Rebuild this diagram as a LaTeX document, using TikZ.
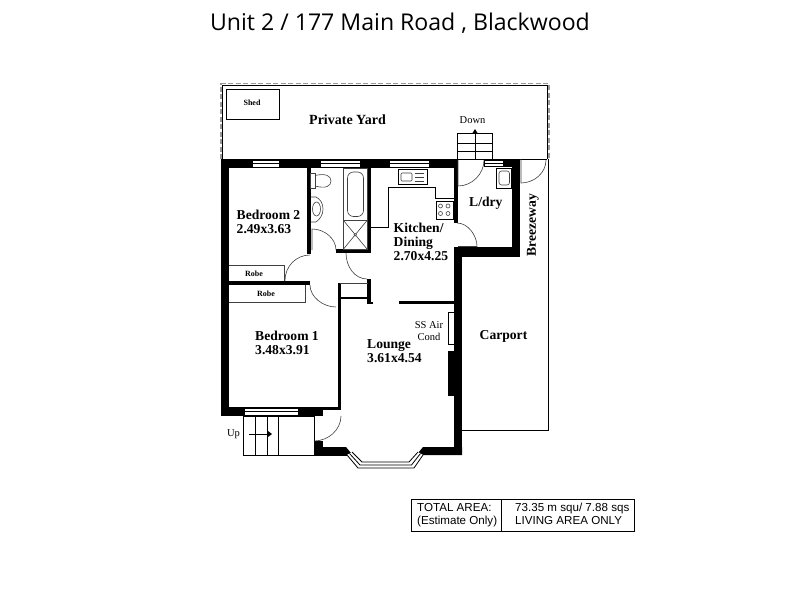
\documentclass[tikz,border=0pt]{standalone}
\usepackage{fontspec}
\setmainfont{Liberation Serif}
\newfontfamily\titlefont{Open Sans}
\newfontfamily\boxfont{Liberation Sans}
\tikzset{
  x=1pt,y=-1pt,
  wall/.style={fill=black},
  thinl/.style={draw=black,line width=0.8pt},
  hair/.style={draw=black!75,line width=0.6pt},
  dashb/.style={draw=black!40,line width=1.3pt,dash pattern=on 5pt off 2.5pt},
  winbox/.style={draw=black,line width=0.6pt,fill=white},
  roomlabel/.style={font=\fontsize{13.6}{14.3}\selectfont\bfseries,align=left,anchor=north west,inner sep=0pt},
  plainlabel/.style={font=\fontsize{10.5}{11.5}\selectfont,align=center,inner sep=0pt},
  smalllabel/.style={font=\fontsize{8}{9}\selectfont\bfseries,inner sep=0pt},
  boxlabel/.style={font=\boxfont\fontsize{11.6}{13.2}\selectfont,align=left,anchor=north west,inner sep=0pt},
}
\newcommand{\winh}[4]{%
  \draw[winbox] (#1,#3) rectangle (#2,#4);
  \draw[draw=black,line width=0.5pt] (#1,{(#3+#4)/2}) -- (#2,{(#3+#4)/2});}
\begin{document}
\begin{tikzpicture}
\useasboundingbox (0,0) rectangle (800,600);
\fill[white] (0,0) rectangle (800,600);
% title
\node[font=\titlefont\fontsize{23.1}{25}\selectfont,inner sep=0pt] (title) at (400,23.5) {Unit 2 / 177 Main Road , Blackwood};
% yard
\draw[dashb] (221,159) -- (221,83.5) -- (549,83.5) -- (549,159);
\draw[thinl] (222.5,159) -- (222.5,85.5) -- (547,85.5) -- (547,159);
\draw[thinl] (226,89.5) rectangle (279,119.5);
% carport + breezeway outlines
\draw[thinl] (548,159) -- (548,430) -- (462,430);
\draw[thinl] (520,159) -- (547,159);
% walls
\fill[wall] (221,159) rectangle (454,168);
\fill[wall] (221,159) rectangle (229,416);
\fill[wall] (221,407) rectangle (298,416);
\fill[wall] (298,407) rectangle (323,416);
\fill[wall] (298,407) rectangle (341,410);
\fill[wall] (337.5,283) rectangle (340.5,410);
\fill[wall] (229,281) rectangle (310,285);
\fill[wall] (307,168) rectangle (311,254);
\fill[wall] (367,168) rectangle (371,252);
\fill[wall] (336,249) rectangle (371,252.5);
\fill[wall] (367,279) rectangle (371,304);
\fill[wall] (340,296.5) rectangle (368,299);
\fill[wall] (367,301.5) rectangle (373,304);
\fill[wall] (454,159) rectangle (458,223);
\fill[wall] (484,159) rectangle (520,167);
\fill[wall] (511.5,159) rectangle (520,257);
\fill[wall] (454,247) rectangle (520,257);
\fill[wall] (454,247) rectangle (462,455);
\fill[wall] (399,300.5) rectangle (454,303.5);
\fill[wall] (448,351) rectangle (454,396);
\fill[wall] (314,441) rectangle (323,455);
\fill[wall] (323,447) -- (346,447) -- (351,453) -- (347,455) -- (323,455) -- cycle;
\fill[wall] (462,447) -- (423,447) -- (418,453) -- (423,455) -- (462,455) -- cycle;
% air-con unit
\draw[thinl] (454,312) -- (448.5,312) -- (448.5,344) -- (454,344);
% windows
\winh{252}{279}{160}{167}
\winh{320}{360}{160}{167}
\winh{389}{429}{160}{167}
\winh{484}{503}{160}{166.5}
\winh{244}{298}{408}{415}
% doorway gap
\fill[white] (458.5,159) rectangle (484,168);
% bay window
\fill[white] (347,455) -- (352,452) -- (362,462) -- (409,462) -- (418,452) -- (423,455) -- (414,468) -- (358,468) -- cycle;
\draw[thinl] (347,455) -- (358,468) -- (414,468) -- (423,455);
\draw[thinl] (349.5,453.5) -- (360,465) -- (411.5,465) -- (420.5,453.5);
\draw[thinl] (352,452) -- (362,462) -- (409,462) -- (418,452);
% doors
\draw[hair] (458,159) -- (458,186) .. controls +(14,0) and +(0,14) .. (484,160);
\draw[hair] (521,159) -- (521,183) .. controls +(13,0) and +(0,13) .. (546,160);
\draw[hair] (457,223) .. controls +(11,0) and +(0,-11) .. (477,246.5) -- (458,246.5);
\draw[hair] (312,250) -- (312,229) .. controls +(13,0) and +(0,-11) .. (336,250);
\draw[hair] (285,280.5) .. controls +(0,-14) and +(-14,0) .. (310,255);
\draw[hair] (310,285) .. controls +(0,12) and +(-13,0) .. (336,307);
\draw[hair] (346,253) .. controls +(0,14) and +(-12,0) .. (367,279);
\draw[hair] (340,283) -- (367.5,283);
\draw[hair] (314,441) .. controls +(14,0) and +(0,14) .. (341,416);
% robes
\draw[hair] (229,265) -- (284,265) -- (284,281);
\draw[hair] (229,302) -- (305,302) -- (305,285);
% bathroom fixtures
\draw[hair] (310.5,173) rectangle (315,188);
\draw[hair] (315,175.5) .. controls (326,173) and (331,176) .. (331,181) .. controls (331,186) and (326,189) .. (315,186);
\draw[hair] (311,197) -- (316,197) .. controls (320,199) and (323,203) .. (323,209) .. controls (323,215) and (320,219) .. (316,222) -- (311,222);
\draw[hair] (316.5,209) ellipse [x radius=4,y radius=7];
\draw[hair] (343.5,168) rectangle (367,220.5);
\draw[hair,rounded corners=6pt] (347.5,172) rectangle (363.5,216.5);
\draw[hair] (343.5,220.5) rectangle (367,249);
\draw[hair] (343.5,220.5) -- (367,249) (367,220.5) -- (343.5,249);
\draw[hair,fill=white] (355.2,234.8) circle (1.3);
% kitchen
\draw[thinl] (398,169) rectangle (427,184);
\draw[hair,rounded corners=1pt] (401,173) rectangle (412,181);
\draw[hair] (415,173) -- (424,173) (415,177) -- (424,177) (415,181) -- (424,181);
\draw[thinl] (370.5,227) -- (388,227) -- (388,187) -- (435,187) -- (435,198) -- (454,198);
\draw[thinl] (436,201) rectangle (453,219);
\foreach \px/\py in {440.5/206,448/206,440.5/213.5,448/213.5}
  \draw[hair] (\px,\py) circle (2);
% laundry tub
\draw[thinl] (496,168) rectangle (511.5,188);
\draw[hair,rounded corners=2.5pt] (499,171) rectangle (509.5,185);
% rear stairs
\draw[thinl] (457,133.5) rectangle (492,159);
\draw[thinl] (457,143) -- (492,143) (457,151) -- (492,151);
\draw[thinl] (475,159) -- (475,133);
\fill[black] (472.5,133) -- (475,129) -- (477.5,133) -- cycle;
% front stairs
\draw[thinl] (243.5,416) -- (243.5,455) -- (347,455);
\draw[thinl] (243.5,416) -- (314,416);
\draw[thinl] (255,416) -- (255,455) (267,416) -- (267,455) (278.5,416) -- (278.5,455);
\draw[thinl] (314,416) -- (314,441);
\draw[thinl] (249,434) -- (268,434);
\fill[black] (268,431) -- (272,434) -- (268,437) -- cycle;
% labels
\node[smalllabel] (shed) at (252,103) {Shed};
\node[font=\fontsize{14}{15}\selectfont\bfseries,inner sep=0pt] (yard) at (347.5,120) {Private Yard};
\node[plainlabel] (down) at (472.5,120) {Down};
\node[roomlabel] (bed2) at (236.5,209.5) {Bedroom 2\\2.49x3.63};
\node[roomlabel] (kitchen) at (393.5,222.5) {Kitchen/\\Dining\\2.70x4.25};
\node[roomlabel] (ldry) at (469,196.5) {L/dry};
\node[roomlabel,rotate=90,anchor=center] (breeze) at (533,225) {Breezeway};
\node[smalllabel] (robe1) at (254,274) {Robe};
\node[smalllabel] (robe2) at (266,294) {Robe};
\node[roomlabel] (bed1) at (255,331) {Bedroom 1\\3.48x3.91};
\node[roomlabel] (lounge) at (367,339) {Lounge\\3.61x4.54};
\node[plainlabel] (air) at (429,331) {SS Air\\Cond};
\node[roomlabel] (carport) at (479.5,330) {Carport};
\node[plainlabel] (up) at (233.5,434) {Up};
% area box
\draw[draw=black,line width=0.9pt] (411,499) rectangle (634,531);
\draw[draw=black,line width=0.9pt] (501,499) -- (501,531);
\node[boxlabel] (b1) at (417,503) {TOTAL AREA:\\(Estimate Only)};
\node[boxlabel] (b2) at (515,503) {73.35 m squ/ 7.88 sqs\\LIVING AREA ONLY};
\end{tikzpicture}
\end{document}
